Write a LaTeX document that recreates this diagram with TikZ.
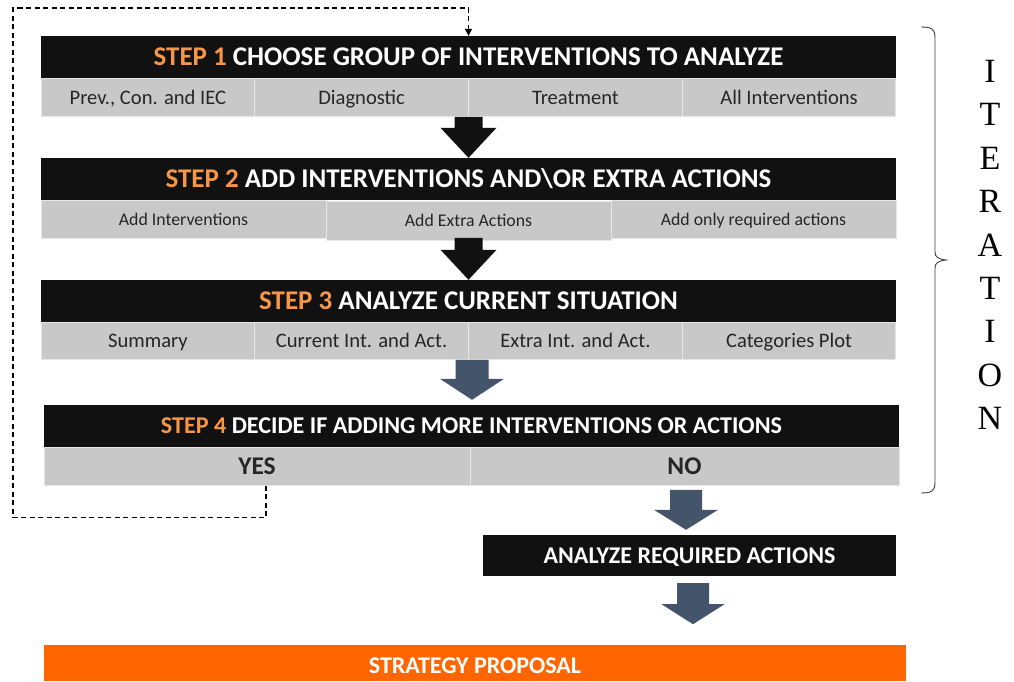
\documentclass[tikz,border=0pt]{standalone}
\usepackage{fontspec}
\setmainfont{Carlito}
\newfontfamily\iterfont{Liberation Serif}
\usetikzlibrary{arrows.meta,calc}
\definecolor{barblack}{HTML}{111111}
\definecolor{cellgray}{HTML}{C8C8C8}
\definecolor{cellline}{HTML}{E6E6E6}
\definecolor{stepor}{HTML}{F79646}
\definecolor{slate}{HTML}{44546A}
\definecolor{propor}{HTML}{FF6600}
\definecolor{celltext}{HTML}{262626}
\tikzset{pics/blockarrow/.style args={#1/#2/#3/#4/#5}{code={
  \fill[#5] (-#3,-#1) -- (#3,-#1) -- (#3,-#2) -- (#4,-#2) -- (0,0)
    -- (-#4,-#2) -- (-#3,-#2) -- cycle;}}}
\begin{document}
\begin{tikzpicture}[x=1pt,y=-1pt,
  bar/.style={fill=barblack, text=white, inner sep=0pt, minimum height=42pt,
    minimum width=855pt, text height=17pt, text depth=0pt,
    font=\bfseries\fontsize{27}{30}\selectfont},
  cell/.style={fill=cellgray, draw=cellline, line width=1pt, inner sep=0pt,
    minimum height=38pt, text=celltext, text height=15pt, text depth=1pt,
    font=\fontsize{20.6}{24}\selectfont},
  smallcell/.style={cell, text height=13pt, text depth=1pt,
    font=\fontsize{17.8}{21}\selectfont},
  boldcell/.style={cell, text height=16pt, text depth=0pt,
    font=\bfseries\fontsize{25.5}{28}\selectfont},
  dashline/.style={draw=black, line width=1.1pt, dash pattern=on 5pt off 3.5pt,
    -{Triangle[width=7pt,length=7pt]}},
  bracestyle/.style={draw=black!75, line width=0.9pt}
]
\fill[white] (0,0) rectangle (1014,681);
\useasboundingbox (0,0) rectangle (1014,681);

% STEP 1
\node[bar] (s1) at (468.5,57) {\textcolor{stepor}{STEP 1} CHOOSE GROUP OF INTERVENTIONS TO ANALYZE};
\node[cell, minimum width=213.75pt] (s1a) at (147.9,97) {Prev., Con. and IEC};
\node[cell, minimum width=213.75pt] (s1b) at (361.6,97) {Diagnostic};
\node[cell, minimum width=213.75pt] (s1c) at (575.4,97) {Treatment};
\node[cell, minimum width=213.75pt] (s1d) at (789.1,97) {All Interventions};

% STEP 2
\node[bar] (s2) at (468.5,179) {\textcolor{stepor}{STEP 2} ADD INTERVENTIONS AND\textbackslash OR EXTRA ACTIONS};
\node[smallcell, minimum width=285pt] (s2a) at (183.5,219) {Add Interventions};
\node[smallcell, minimum width=285pt, minimum height=39pt] (s2b) at (468.5,220.5) {Add Extra Actions};
\node[smallcell, minimum width=285pt] (s2c) at (753.5,219) {Add only required actions};

% STEP 3
\node[bar] (s3) at (468.5,301) {\textcolor{stepor}{STEP 3} ANALYZE CURRENT SITUATION};
\node[cell, minimum width=213.75pt, minimum height=37pt] (s3a) at (147.9,340.5) {Summary};
\node[cell, minimum width=213.75pt, minimum height=37pt] (s3b) at (361.6,340.5) {Current Int. and Act.};
\node[cell, minimum width=213.75pt, minimum height=37pt] (s3c) at (575.4,340.5) {Extra Int. and Act.};
\node[cell, minimum width=213.75pt, minimum height=37pt] (s3d) at (789.1,340.5) {Categories Plot};

% STEP 4
\node[bar, text height=15.5pt, font=\bfseries\fontsize{24.1}{28}\selectfont] (s4) at (471.5,426) {\textcolor{stepor}{STEP 4} DECIDE IF ADDING MORE INTERVENTIONS OR ACTIONS};
\node[boldcell, minimum width=426pt] (yes) at (257,466) {YES};
\node[boldcell, minimum width=429pt] (no) at (684.5,466) {NO};

% Analyze required actions
\node[fill=barblack, text=white, inner sep=0pt, minimum width=413pt, minimum height=41pt,
  text height=15pt, text depth=0pt,
  font=\bfseries\fontsize{24}{28}\selectfont] (ara) at (689.5,555.5) {ANALYZE REQUIRED ACTIONS};

% Strategy proposal
\node[fill=propor, text=white, inner sep=0pt, minimum width=862pt, minimum height=36pt,
  text height=20pt, text depth=0pt,
  font=\bfseries\fontsize{24}{28}\selectfont] (prop) at (475,663) {STRATEGY PROPOSAL};

% block arrows
\pic at (s2.north) {blockarrow=41/30/14/28/barblack};
\pic at (s3.north) {blockarrow=42/30/14/28/barblack};
\pic at ($(s4.north)+(0.5,-5)$) {blockarrow=40/21/16.5/32/slate};
\pic at ($(ara.north)+(-3.5,-5)$) {blockarrow=40/20/16/32/slate};
\pic at ($(ara.south)+(3.5,48)$) {blockarrow=41/20/16/31.5/slate};

% loop back
\coordinate (loopcorner) at (13,8);
\draw[dashline] ([xshift=9pt]yes.south) -- ++(0,32) -| (loopcorner) -| (s1.north);

% iteration brace
\draw[bracestyle] (921,27) .. controls (932,27) and (935,29) .. (935,38)
  -- (935,252) .. controls (935,257) and (938,259) .. (946,260)
  .. controls (938,261) and (935,263) .. (935,268)
  -- (935,482) .. controls (935,491) and (932,493) .. (921,493);
\node[anchor=north, inner sep=0pt, align=center,
  font=\iterfont\fontsize{34}{43.4}\selectfont] (iter) at (990,60) {I\\T\\E\\R\\A\\T\\I\\O\\N};
\end{tikzpicture}
\end{document}
